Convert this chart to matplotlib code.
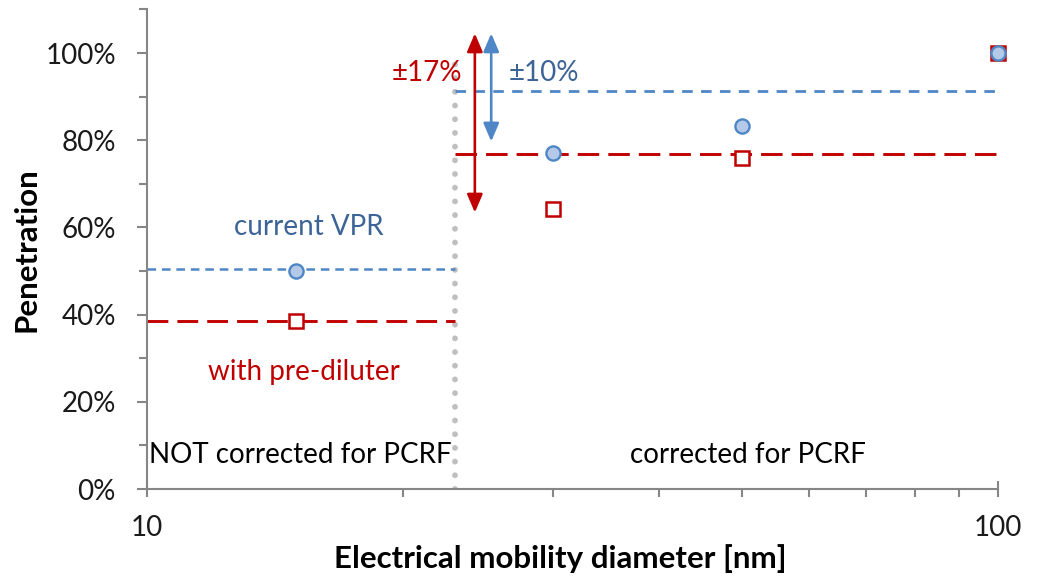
import matplotlib
matplotlib.use("Agg")
import matplotlib.pyplot as plt
from matplotlib.ticker import FixedLocator, FuncFormatter, NullFormatter
import numpy as np

plt.rcParams['font.family'] = ['Lato', 'DejaVu Sans']
plt.rcParams['lines.scale_dashes'] = False

# ---- data ----
diam = [15, 30, 50, 100]                      # electrical mobility diameter [nm]
pen_vpr = [0.50, 0.77, 0.833, 1.00]           # current VPR
pen_prediluter = [0.385, 0.642, 0.759, 1.00]  # with pre-diluter

boundary = 23.0                               # PCRF correction boundary [nm]
mean_vpr_low, mean_vpr_high = 0.504, 0.913
mean_pd_low, mean_pd_high = 0.385, 0.768

arrow_17 = [24.3, 0.634, 1.045]   # x, y_low, y_high
arrow_10 = [25.4, 0.797, 1.045]

x_ticks = [10, 100]
y_ticks = [0, 0.2, 0.4, 0.6, 0.8, 1.0]

BLUE = '#4F86C6'
BLUE_FACE = '#B4C9E8'
BLUE_TXT = '#3C6496'
RED = '#C00000'
GREY = '#868686'

fig = plt.figure(figsize=(10.45, 5.76), dpi=100)
ax = fig.add_axes([146.5/1045, 87/576, (998-146.5)/1045, (489-9.4)/576])

ax.set_xscale('log')
ax.set_xlim(10, 100)
ax.set_ylim(0, 1.1)

# reference lines
ax.plot([10, boundary], [mean_vpr_low]*2, color=BLUE, lw=1.8,
        linestyle=(0, (6.2, 4.2)), zorder=2)
ax.plot([10, boundary], [mean_pd_low]*2, color=RED, lw=2.1,
        linestyle=(0, (15, 6.5)), zorder=2)
ax.plot([boundary, 100], [mean_vpr_high]*2, color=BLUE, lw=2.0,
        linestyle=(0, (7.6, 6.0)), zorder=2, clip_on=False)
ax.plot([boundary, 100], [mean_pd_high]*2, color=RED, lw=2.1,
        linestyle=(0, (15.5, 6.5)), zorder=2, clip_on=False)

# dotted boundary
ax.plot([boundary, boundary], [0, 1.0], color='#BFBFBF', lw=4.2,
        linestyle=(0, (0.01, 9.85)), dash_capstyle='round',
        solid_capstyle='round', zorder=1)

# markers
ax.plot(diam, pen_prediluter, linestyle='none', marker='s', ms=10.5,
        mfc='white', mec=RED, mew=1.8, zorder=4, clip_on=False)
ax.plot(diam, pen_vpr, linestyle='none', marker='o', ms=10.2,
        mfc=BLUE_FACE, mec=BLUE, mew=1.7, zorder=5, clip_on=False)

# arrows
for (xa, y0, y1), col in [(arrow_17, RED), (arrow_10, BLUE)]:
    ax.annotate('', xy=(xa, y1), xytext=(xa, y0),
                arrowprops=dict(arrowstyle='<|-|>,head_length=11,head_width=4.7',
                                color=col, lw=1.9, shrinkA=0, shrinkB=0,
                                mutation_scale=1), zorder=6)

fs = 20
ax.text(23.5, 0.954, '±17%', color=RED, fontsize=fs, ha='right', va='center')
ax.text(26.6, 0.954, '±10%', color=BLUE_TXT, fontsize=fs, ha='left', va='center')
ax.text(15.5, 0.601, 'current VPR', color=BLUE_TXT, fontsize=fs, ha='center', va='center')
ax.text(15.3, 0.268, 'with pre-diluter', color=RED, fontsize=fs, ha='center', va='center')
ax.text(10.07, 0.078, 'NOT corrected for PCRF', color='black', fontsize=fs,
        ha='left', va='center')
ax.text(50.9, 0.078, 'corrected for PCRF', color='black', fontsize=fs,
        ha='center', va='center')

# axes styling
for s in ['top', 'right']:
    ax.spines[s].set_visible(False)
for s in ['left', 'bottom']:
    ax.spines[s].set_color(GREY)
    ax.spines[s].set_linewidth(1.5)

ax.xaxis.set_major_locator(FixedLocator(x_ticks))
ax.xaxis.set_minor_locator(FixedLocator(list(range(20, 100, 10))))
ax.xaxis.set_major_formatter(FuncFormatter(lambda v, p: f'{v:g}'))
ax.xaxis.set_minor_formatter(NullFormatter())
ax.yaxis.set_major_locator(FixedLocator(y_ticks))
ax.yaxis.set_minor_locator(FixedLocator([0.1, 0.3, 0.5, 0.7, 0.9, 1.1]))
ax.yaxis.set_major_formatter(FuncFormatter(lambda v, p: f'{v*100:.0f}%'))

ax.tick_params(axis='both', which='both', color=GREY, width=1.5, labelsize=fs,
               labelcolor='#1a1a1a')
ax.tick_params(axis='x', which='major', direction='inout', length=12, pad=13)
ax.tick_params(axis='x', which='minor', direction='out', length=6)
ax.tick_params(axis='y', which='major', direction='out', length=7, pad=15)
ax.tick_params(axis='y', which='minor', direction='out', length=6)

ax.set_xlabel('Electrical mobility diameter [nm]', fontsize=22.5, fontweight='bold')
ax.xaxis.set_label_coords(0.486, -0.115)
ax.set_ylabel('Penetration', fontsize=22.5, fontweight='bold')
ax.yaxis.set_label_coords(-0.124, 0.5)

fig.savefig('out.png', dpi=100)
